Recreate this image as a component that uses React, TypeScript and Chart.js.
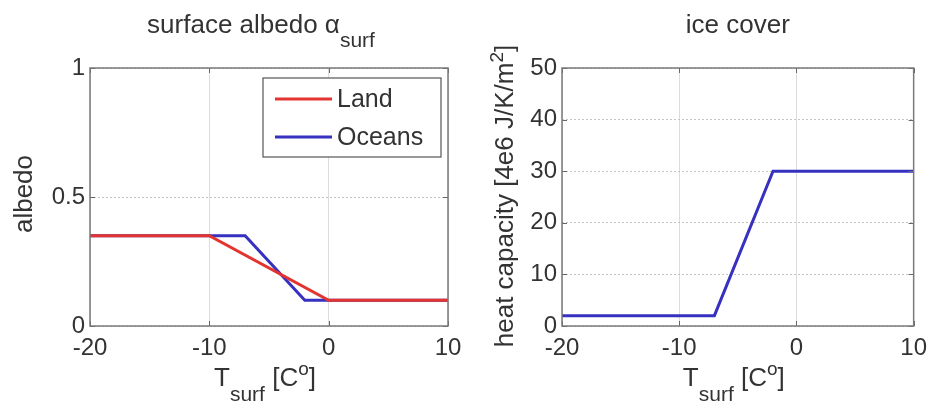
import React, { useEffect, useRef } from "react";
import { Chart, registerables } from "chart.js";

Chart.register(...registerables);

// ---------- data ----------
const tempTicks = [-20, -10, 0, 10];
const albedoTicks = [0, 0.5, 1];
const heatTicks = [0, 10, 20, 30, 40, 50];

const landLabel = "Land";
const landT = [-20, -10, 0, 10];
const landAlbedo = [0.35, 0.35, 0.1, 0.1];

const oceanLabel = "Oceans";
const oceanT = [-20, -7, -2, 10];
const oceanAlbedo = [0.35, 0.35, 0.1, 0.1];

const iceT = [-20, -7, -2, 10];
const iceHeatCap = [2, 2, 30, 30];

// ---------- styles ----------
const FONT = '"Liberation Sans", Arial, Helvetica, sans-serif';
const TEXT = "#333333";
const RED = "#e3342f";
const BLUE = "#3631c0";
const FS = 24;
const LS = 26; // label / title size
const SUB = 21;
const SUP = 19;

type Seg = [string, number, number];

function drawRich(ctx: CanvasRenderingContext2D, segs: Seg[], cx: number, cy: number, rot = 0) {
  ctx.save();
  ctx.translate(cx, cy);
  if (rot) ctx.rotate(rot);
  let total = 0;
  for (const [t, s] of segs) {
    ctx.font = `${s}px ${FONT}`;
    total += ctx.measureText(t).width;
  }
  let x = -total / 2;
  ctx.textBaseline = "alphabetic";
  ctx.textAlign = "left";
  ctx.fillStyle = TEXT;
  for (const [t, s, dy] of segs) {
    ctx.font = `${s}px ${FONT}`;
    ctx.fillText(t, x, dy);
    x += ctx.measureText(t).width;
  }
  ctx.restore();
}

const decorPlugin = {
  id: "decor",
  afterDatasetsDraw(chart: any, _args: any, opts: any) {
    const ctx: CanvasRenderingContext2D = chart.ctx;
    const a = chart.chartArea;
    const xs = chart.scales.x;
    const ys = chart.scales.y;
    // inward ticks
    ctx.save();
    ctx.strokeStyle = "#666";
    ctx.lineWidth = 1;
    const tl = 5;
    for (const t of xs.ticks) {
      const px = Math.round(xs.getPixelForValue(t.value)) + 0.5;
      ctx.beginPath();
      ctx.moveTo(px, a.bottom);
      ctx.lineTo(px, a.bottom - tl);
      ctx.moveTo(px, a.top);
      ctx.lineTo(px, a.top + tl);
      ctx.stroke();
    }
    for (const t of ys.ticks) {
      const py = Math.round(ys.getPixelForValue(t.value)) + 0.5;
      ctx.beginPath();
      ctx.moveTo(a.left, py);
      ctx.lineTo(a.left + tl, py);
      ctx.moveTo(a.right, py);
      ctx.lineTo(a.right - tl, py);
      ctx.stroke();
    }
    // box
    ctx.strokeStyle = "#7a7a7a";
    ctx.lineWidth = 1.5;
    ctx.strokeRect(a.left, a.top, a.right - a.left, a.bottom - a.top);
    ctx.restore();

    // legend
    if (opts.legend) {
      const w = 178, h = 79;
      const lx = a.right - 7 - w;
      const ly = a.top + 10;
      ctx.save();
      ctx.fillStyle = "#fff";
      ctx.fillRect(lx, ly, w, h);
      ctx.strokeStyle = "#555";
      ctx.lineWidth = 1.2;
      ctx.strokeRect(lx, ly, w, h);
      chart.data.datasets.forEach((ds: any, i: number) => {
        const cy = ly + 21 + i * 38;
        ctx.strokeStyle = ds.borderColor;
        ctx.lineWidth = 3;
        ctx.beginPath();
        ctx.moveTo(lx + 12, cy);
        ctx.lineTo(lx + 69, cy);
        ctx.stroke();
        ctx.fillStyle = TEXT;
        ctx.font = `${FS + 1}px ${FONT}`;
        ctx.textBaseline = "middle";
        ctx.textAlign = "left";
        ctx.fillText(ds.label, lx + 74, cy + 1);
      });
      ctx.restore();
    }
  },
  afterDraw(chart: any, _args: any, opts: any) {
    const ctx: CanvasRenderingContext2D = chart.ctx;
    const a = chart.chartArea;
    const mid = (a.left + a.right) / 2;
    drawRich(ctx, opts.title, mid + (opts.titleDx || 0), 33);
    drawRich(ctx, opts.xTitle, mid + (opts.xTitleDx || 0), 386);
    drawRich(ctx, opts.yTitle, opts.yTitleX, opts.yTitleY, -Math.PI / 2);
  },
};

function makeScales(yMin: number, yMax: number, yTicks: number[], yWidth: number) {
  const tickFont = { family: FONT, size: FS };
  return {
    x: {
      type: "linear",
      min: -20,
      max: 10,
      afterBuildTicks: (s: any) => {
        s.ticks = tempTicks.map((v) => ({ value: v }));
      },
      afterFit: (s: any) => {
        s.height = 75;
      },
      ticks: { font: tickFont, color: TEXT, padding: 8, maxRotation: 0, callback: (v: any) => String(v) },
      grid: { color: "#dcdcdc", lineWidth: 1, drawTicks: false },
      border: { display: false },
    },
    y: {
      type: "linear",
      min: yMin,
      max: yMax,
      afterBuildTicks: (s: any) => {
        s.ticks = yTicks.map((v) => ({ value: v }));
      },
      afterFit: (s: any) => {
        s.width = yWidth;
      },
      ticks: { font: tickFont, color: TEXT, padding: 5, callback: (v: any) => String(v) },
      grid: { color: "#c4c4c4", lineWidth: 1, drawTicks: false },
      border: { display: false, dash: [2, 2] },
    },
  };
}

const xTitleSegs: Seg[] = [
  ["T", LS, 0],
  ["surf", SUB, 15],
  [" [C", LS, 0],
  ["o", SUP, -11],
  ["]", LS, 0],
];

function AlbedoChart() {
  const ref = useRef<HTMLCanvasElement>(null);
  useEffect(() => {
    const chart = new Chart(ref.current as HTMLCanvasElement, {
      type: "line",
      data: {
        datasets: [
          {
            label: landLabel,
            data: landT.map((t, i) => ({ x: t, y: landAlbedo[i] })),
            borderColor: RED,
            borderWidth: 3,
            pointRadius: 0,
            tension: 0,
          },
          {
            label: oceanLabel,
            data: oceanT.map((t, i) => ({ x: t, y: oceanAlbedo[i] })),
            borderColor: BLUE,
            borderWidth: 3,
            pointRadius: 0,
            tension: 0,
          },
        ],
      },
      options: {
        animation: false,
        responsive: false,
        events: [],
        layout: { padding: { left: 0, right: 22, top: 68, bottom: 0 } },
        scales: makeScales(0, 1, albedoTicks, 90) as any,
        plugins: {
          legend: { display: false },
          tooltip: { enabled: false },
          decor: {
            legend: true,
            title: [
              ["surface albedo ", LS, 0],
              ["\u03b1", LS, 0],
              ["surf", SUB, 14],
            ],
            titleDx: -8,
            xTitle: xTitleSegs,
            xTitleDx: -4,
            yTitle: [["albedo", LS, 0]],
            yTitleX: 32,
            yTitleY: 194,
          },
        } as any,
      },
      plugins: [decorPlugin],
    });
    return () => chart.destroy();
  }, []);
  return <canvas ref={ref} width={470} height={401} style={{ position: "absolute", left: 0, top: 0 }} />;
}

function IceChart() {
  const ref = useRef<HTMLCanvasElement>(null);
  useEffect(() => {
    const chart = new Chart(ref.current as HTMLCanvasElement, {
      type: "line",
      data: {
        datasets: [
          {
            label: "ice cover",
            data: iceT.map((t, i) => ({ x: t, y: iceHeatCap[i] })),
            borderColor: BLUE,
            borderWidth: 3,
            pointRadius: 0,
            tension: 0,
          },
        ],
      },
      options: {
        animation: false,
        responsive: false,
        events: [],
        layout: { padding: { left: 0, right: 15, top: 68, bottom: 0 } },
        scales: makeScales(0, 50, heatTicks, 92) as any,
        plugins: {
          legend: { display: false },
          tooltip: { enabled: false },
          decor: {
            legend: false,
            title: [["ice cover", LS, 0]],
            titleDx: 0,
            xTitle: xTitleSegs,
            xTitleDx: -4,
            yTitle: [
              ["heat capacity [4e6 J/K/m", LS, 0],
              ["2", SUP, -10],
              ["]", LS, 0],
            ],
            yTitleX: 43,
            yTitleY: 196,
          },
        } as any,
      },
      plugins: [decorPlugin],
    });
    return () => chart.destroy();
  }, []);
  return <canvas ref={ref} width={465} height={401} style={{ position: "absolute", left: 470, top: 0 }} />;
}

export default function App() {
  return (
    <div style={{ position: "absolute", left: 0, top: 0, width: 935, height: 401, background: "#fff" }}>
      <AlbedoChart />
      <IceChart />
    </div>
  );
}
